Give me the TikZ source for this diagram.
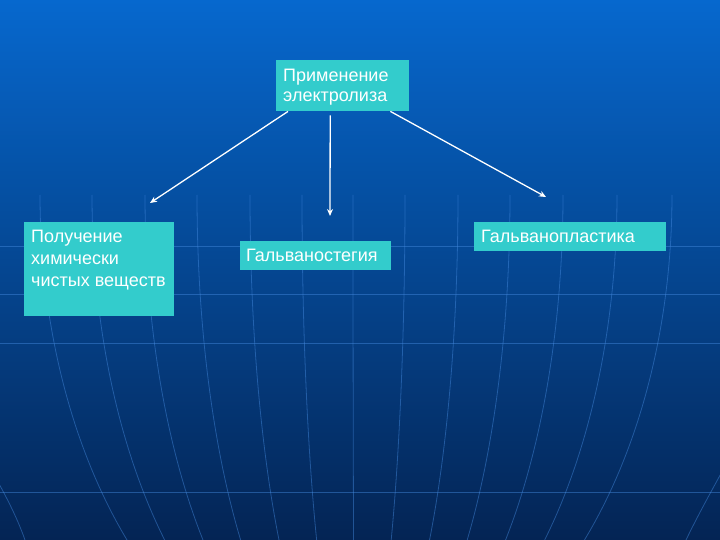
\documentclass[tikz,border=0pt]{standalone}
\usepackage{fontspec}
\setmainfont{Liberation Sans}
\usetikzlibrary{arrows.meta}
\definecolor{bgtop}{RGB}{6,104,206}
\definecolor{bgmid}{RGB}{4,72,160}
\definecolor{bgbot}{RGB}{4,36,84}
\definecolor{boxc}{RGB}{51,204,204}
\definecolor{gridc}{RGB}{70,140,225}
\tikzset{
  box/.style={fill=boxc, draw=none, anchor=north west, inner sep=0pt},
  txt/.style={text=white, anchor=base west, inner sep=0pt, font=\fontsize{18}{21}\selectfont},
  arr/.style={draw=white, line width=1.3pt, -{Stealth[length=7pt,width=6pt]}},
  gridline/.style={draw=gridc, line width=0.8pt, opacity=0.45}
}
\begin{document}
\begin{tikzpicture}[x=1pt,y=-1pt]
\useasboundingbox (0,0) rectangle (720,540);
\shade[top color=bgtop, middle color=bgmid, bottom color=bgbot] (0,0) rectangle (720,540);
% background grid
\foreach \yy in {246,294,343,492} {
  \draw[gridline] (0,\yy) -- (720,\yy);
}
\foreach \xx in {40,92,145,197,250,302,353,405,458,510,563,617,672} {
  \draw[gridline] plot[domain=195:540, samples=40, variable=\t] ({355+(\xx-355)*sqrt(1-((\t-195)/500)^2)}, {\t});
}
\draw[gridline] (-2,482) .. controls (8,500) and (18,520) .. (25,540);
\draw[gridline] (724,468) .. controls (712,490) and (698,515) .. (686,540);
% boxes
\node[box, minimum width=133pt, minimum height=51pt] (top) at (276,60) {};
\node[box, minimum width=150pt, minimum height=94pt] (left) at (24,222) {};
\node[box, minimum width=151pt, minimum height=29pt] (mid) at (240,241) {};
\node[box, minimum width=192pt, minimum height=29pt] (right) at (474,222) {};
% texts
\node[txt] (t1) at (283,82) {Применение};
\node[txt] (t2) at (283,102) {электролиза};
\node[txt] (l1) at (31,242) {Получение};
\node[txt] (l2) at (31,264) {химически};
\node[txt] (l3) at (31,286) {чистых веществ};
\node[txt] (m1) at (246,261) {Гальваностегия};
\node[txt] (r1) at (481,242) {Гальванопластика};
% arrow ends
\coordinate (e1) at (150,203);
\coordinate (e2) at (330,216);
\coordinate (e3) at (546,197);
\draw[arr] ([xshift=12pt]top.south west) -- (e1);
\draw[arr] ([xshift=-12.5pt,yshift=-4pt]top.south) -- (e2);
\draw[arr] ([xshift=-19pt]top.south east) -- (e3);
\end{tikzpicture}
\end{document}
